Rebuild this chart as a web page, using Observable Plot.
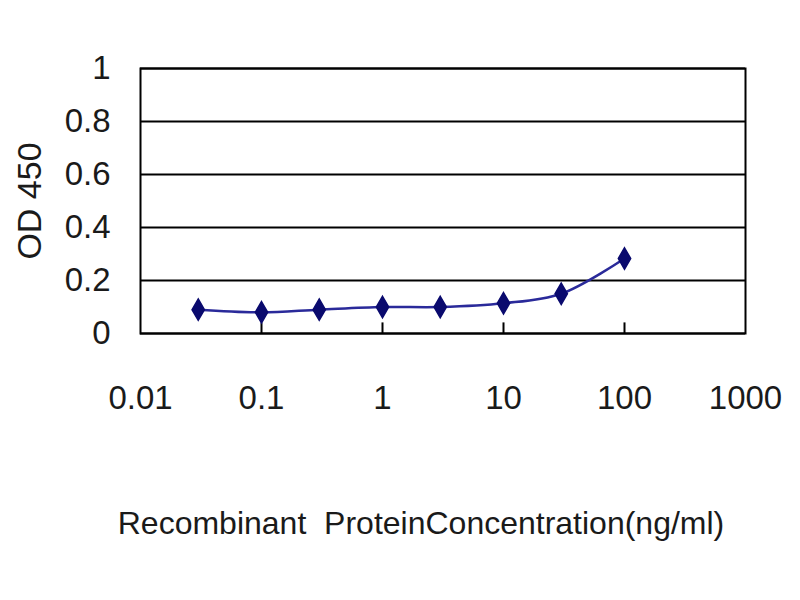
<!DOCTYPE html>
<html>
<head>
<meta charset="utf-8">
<script src="https://cdn.jsdelivr.net/npm/d3@7"></script>
<script src="https://cdn.jsdelivr.net/npm/@observablehq/plot@0.6"></script>
<style>
  html, body { margin: 0; padding: 0; background: #fff; }
  #chart svg { display: block; }
</style>
</head>
<body>
<div id="chart"></div>
<script>
const concentrations = [0.03, 0.1, 0.3, 1, 3, 10, 30, 100];
const od450 = [0.09, 0.08, 0.09, 0.10, 0.10, 0.114, 0.15, 0.283];
const xTicks = [0.01, 0.1, 1, 10, 100, 1000];
const innerTicks = [0.1, 1, 10, 100];
const yTicks = [0, 0.2, 0.4, 0.6, 0.8, 1];
const yTitle = "OD 450";
const xTitle = "Recombinant  ProteinConcentration(ng/ml)";

const data = concentrations.map((c, i) => ({conc: c, od: od450[i]}));
const font = "'Liberation Sans', Arial, sans-serif";

const chart = Plot.plot({
  width: 800,
  height: 600,
  marginLeft: 140,
  marginRight: 55,
  marginTop: 68,
  marginBottom: 267,
  style: {fontFamily: font, fontSize: "33px", color: "#1a1a1a", background: "#fff"},
  x: {type: "log", domain: [0.01, 1000]},
  y: {domain: [0, 1]},
  marks: [
    Plot.ruleY(yTicks, {stroke: "#000", strokeWidth: 2}),
    Plot.ruleX(innerTicks, {y1: 0, y2: 0.04, stroke: "#000", strokeWidth: 2}),
    Plot.frame({stroke: "#000", strokeWidth: 2}),
    Plot.axisX({ticks: xTicks, tickSize: 0, tickPadding: 52, tickFormat: d => String(d), label: null, fontSize: 33}),
    Plot.axisY({ticks: yTicks, tickSize: 0, tickPadding: 30, tickFormat: d => String(d), label: null, fontSize: 33}),
    Plot.line(data, {x: "conc", y: "od", stroke: "#2a2a9a", strokeWidth: 2.5, curve: "catmull-rom"}),
    Plot.dot(data, {x: "conc", y: "od", symbol: "diamond", r: 6.5, fill: "#0a0a6e", stroke: "#0a0a6e"}),
    Plot.text([yTitle], {frameAnchor: "left", textAnchor: "middle", dx: -110, rotate: -90, fontSize: 34, fill: "#1a1a1a"}),
    Plot.text([xTitle], {frameAnchor: "bottom", textAnchor: "middle", dx: -22, dy: 200, fontSize: 32, fill: "#1a1a1a"})
  ]
});
document.getElementById("chart").appendChild(chart);
</script>
</body>
</html>
